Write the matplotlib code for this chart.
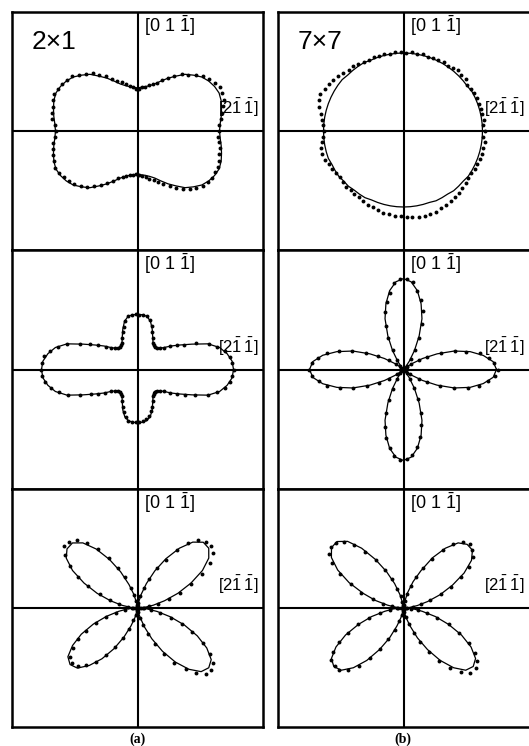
import numpy as np
import matplotlib
matplotlib.use('Agg')
import matplotlib.pyplot as plt

plt.rcParams['font.family'] = ['Liberation Sans', 'DejaVu Sans']
plt.rcParams['mathtext.fontset'] = 'custom'
plt.rcParams['mathtext.rm'] = 'Liberation Sans'

# fit curves: radius every 5 deg, starting at 0 deg ([2-1-1] direction), counter clockwise
fit_2x1_top = [82, 83, 85, 87, 89, 90, 89, 87, 84, 79, 74, 67, 61, 55, 50, 47, 45, 44,
               43, 44, 45, 47, 50, 55, 61, 67, 74, 79, 84, 87, 89, 90, 89, 87, 85, 83,
               82, 83, 85, 87, 89, 90, 89, 87, 84, 79, 74, 67, 61, 55, 50, 47, 45, 44,
               43, 44, 45, 47, 50, 55, 61, 67, 74, 79, 84, 87, 89, 90, 89, 87, 85, 83]
fit_2x1_mid = [96, 95, 91, 85, 75, 60, 49, 41, 34, 30, 28, 28, 31, 36, 43, 50, 54, 55,
               55, 55, 54, 50, 43, 36, 31, 28, 28, 30, 34, 41, 49, 60, 75, 85, 91, 95,
               96, 95, 91, 85, 75, 60, 49, 41, 34, 30, 28, 28, 31, 36, 43, 49, 52, 53,
               53, 53, 52, 49, 43, 36, 31, 28, 28, 30, 34, 41, 49, 60, 75, 85, 91, 95]
fit_2x1_bot = [3, 7, 16, 28, 43, 59, 75, 87, 93, 93, 86, 73, 57, 41, 26, 14, 5, 0,
               0, 0, 5, 14, 25, 40, 56, 72, 85, 92, 92, 87, 75, 59, 43, 28, 16, 7,
               3, 10, 19, 32, 47, 62, 75, 85, 88, 85, 75, 62, 47, 32, 19, 10, 3, 0,
               0, 0, 3, 9, 20, 34, 50, 66, 80, 90, 93, 90, 80, 66, 50, 34, 20, 9]
fit_7x7_top = [79, 79, 79, 79, 79, 79, 79, 78, 78, 78, 78, 78, 78, 78, 78, 78, 78, 78,
               78, 78, 78, 78, 78, 78, 79, 79, 79, 79, 80, 80, 80, 80, 80, 80, 80, 80,
               80, 80, 80, 80, 80, 79, 79, 79, 78, 78, 77, 77, 77, 76, 76, 76, 76, 76,
               76, 76, 76, 76, 76, 77, 77, 77, 78, 78, 78, 79, 79, 79, 79, 79, 79, 79]
fit_7x7_mid = [93, 90, 81, 69, 54, 37, 22, 10, 3, 0, 3, 10, 22, 37, 54, 68, 80, 88,
               91, 88, 80, 68, 54, 37, 22, 10, 3, 0, 3, 10, 22, 37, 54, 69, 82, 91,
               94, 91, 82, 69, 54, 37, 22, 10, 3, 0, 3, 10, 22, 37, 54, 68, 80, 88,
               91, 88, 80, 68, 54, 37, 22, 10, 3, 0, 3, 10, 22, 37, 54, 69, 81, 90]
fit_7x7_bot = [3, 6, 14, 25, 39, 54, 70, 83, 90, 90, 85, 73, 58, 41, 28, 16, 6, 1,
               0, 0, 5, 14, 26, 40, 56, 73, 87, 94, 94, 88, 76, 60, 43, 29, 16, 7,
               3, 10, 19, 33, 48, 64, 78, 88, 91, 88, 78, 64, 48, 33, 19, 10, 3, 0,
               0, 0, 3, 10, 19, 33, 48, 64, 78, 88, 91, 88, 78, 64, 48, 33, 19, 10]

# measured points: radius every 4 deg, starting at 0 deg
data_2x1_top = [81, 82, 84, 86, 89, 92, 93, 93, 91, 88, 85, 81, 76, 72, 66, 61, 57, 52, 49, 47, 45, 44, 42,
                42, 44, 46, 48, 51, 54, 58, 63, 68, 73, 77, 81, 85, 87, 89, 90, 91, 90, 88, 87, 86, 83,
                82, 83, 85, 86, 88, 89, 90, 89, 87, 85, 83, 79, 75, 70, 65, 60, 56, 51, 48, 46, 45, 44, 43,
                44, 45, 47, 49, 52, 55, 59, 64, 69, 74, 78, 82, 85, 87, 88, 88, 88, 87, 85, 84, 82, 81]
data_2x1_mid = [96, 95, 93, 89, 83, 76, 64, 53, 46, 40, 34, 31, 29, 28, 29, 31, 35, 40, 46, 51, 54, 55, 55,
                56, 55, 54, 50, 45, 40, 35, 31, 29, 28, 29, 31, 34, 39, 46, 54, 63, 75, 83, 89, 94, 96,
                97, 96, 93, 88, 82, 74, 63, 53, 46, 40, 34, 31, 29, 28, 29, 31, 35, 40, 45, 49, 52, 53, 53,
                53, 52, 50, 48, 44, 40, 35, 31, 29, 28, 29, 31, 34, 40, 46, 54, 63, 75, 83, 89, 93, 95]
data_2x1_bot = [3, 6, 12, 21, 33, 45, 59, 73, 85, 93, 96, 95, 91, 82, 70, 56, 44, 31, 21, 12, 5, 2, 0,
                1, 3, 7, 13, 21, 33, 45, 58, 71, 82, 91, 95, 96, 90, 80, 67, 54, 40, 29, 19, 10, 5, 3,
                6, 13, 22, 33, 44, 56, 67, 76, 83, 85, 83, 77, 68, 57, 45, 33, 23, 13, 7, 3, 1, 0,
                1, 1, 4, 10, 18, 28, 40, 53, 66, 78, 88, 95, 96, 93, 86, 74, 60, 47, 35, 23, 14, 7]
data_7x7_top = [81, 80, 81, 80, 81, 80, 81, 80, 80, 79, 81, 80, 82, 80, 79, 80, 79, 79, 78, 79, 78, 79, 78,
                79, 79, 78, 79, 79, 80, 79, 80, 81, 82, 82, 84, 85, 87, 88, 89, 91, 90, 88, 84, 82, 81,
                80, 81, 82, 84, 85, 84, 82, 81, 80, 79, 79, 80, 79, 80, 80, 81, 82, 82, 83, 84, 84, 85, 85,
                86, 86, 87, 88, 87, 87, 86, 85, 85, 84, 83, 82, 81, 80, 80, 81, 80, 81, 82, 81, 82, 80]
data_7x7_mid = [94, 91, 86, 78, 65, 55, 41, 27, 18, 9, 4, 1,
                1, 5, 13, 22, 35, 49, 62, 72, 80, 88, 91, 91, 87, 78, 70, 60, 47, 35, 22, 12, 5, 1,
                0, 3, 9, 17, 29, 41, 55, 67, 78, 86, 92, 95, 92, 85, 78, 66, 54, 40, 28, 17, 8, 3, 0,
                1, 5, 12, 22, 34, 47, 60, 71, 80, 87, 91, 90, 86, 79, 70, 58, 47, 33, 21, 12, 5, 1,
                0, 3, 8, 18, 27, 40, 54, 67, 77, 85, 92]
data_7x7_bot = [2, 4, 10, 18, 28, 40, 52, 65, 77, 86, 90, 92, 89, 81, 70, 57, 45, 33, 23, 14, 7, 3, 0,
                1, 3, 6, 12, 20, 31, 42, 55, 68, 80, 89, 94, 95, 92, 84, 72, 58, 45, 32, 21, 12, 6, 3,
                7, 14, 24, 36, 48, 61, 73, 83, 89, 90, 89, 83, 73, 60, 47, 35, 24, 14, 7, 3, 1, 0,
                1, 1, 4, 9, 17, 27, 38, 51, 64, 76, 86, 93, 94, 91, 84, 74, 61, 48, 35, 24, 15, 8]

W, H = 529, 746
fig = plt.figure(figsize=(W / 100, H / 100), dpi=100)

lab_up = r'[0 1 $\mathrm{\bar{1}}$]'
lab_side = r'[2$\mathrm{\bar{1}\,\bar{1}}$]'


def panel(x0, x1, y0, y1, fit, data, right_col, title=None):
    # square frame with the cross, units = pixels
    w, h = x1 - x0, y1 - y0
    ax = fig.add_axes([x0 / W, (H - y1) / H, w / W, h / H])
    ax.set_xlim(-w / 2, w / 2)
    ax.set_ylim(-h / 2, h / 2)
    ax.set_xticks([])
    ax.set_yticks([])
    for s in ax.spines.values():
        s.set_linewidth(1.8)
    if right_col:
        ax.spines['right'].set_visible(False)
    ax.axhline(0, color='k', lw=1.5)
    ax.axvline(0, color='k', lw=1.5)
    ax.text(7, h / 2 - 14, lab_up, fontsize=13, ha='left', va='center')
    ax.text(81, 23, lab_side, fontsize=12, ha='left', va='center')
    if title:
        ax.text(-106, 89, title, fontsize=19, ha='left', va='center')

    # polar plot on top, same centre, 1 unit = 1 pixel
    cx, cy = (x0 + x1) / 2, (y0 + y1) / 2
    pax = fig.add_axes([(cx - h / 2) / W, (H - cy - h / 2) / H, h / W, h / H],
                       projection='polar')
    pax.set_rlim(0, h / 2)
    pax.axis('off')
    th = np.deg2rad(np.arange(len(fit)) * 360 / len(fit))
    pax.plot(np.append(th, th[0]), np.append(fit, fit[0]), color='k', lw=0.9)
    thd = np.deg2rad(np.arange(len(data)) * 360 / len(data))
    pax.plot(thd, data, 'o', color='k', ms=2.8, mec='none')


rows = [(12, 250), (250, 489), (489, 727)]
left = [fit_2x1_top, fit_2x1_mid, fit_2x1_bot]
left_d = [data_2x1_top, data_2x1_mid, data_2x1_bot]
right = [fit_7x7_top, fit_7x7_mid, fit_7x7_bot]
right_d = [data_7x7_top, data_7x7_mid, data_7x7_bot]

for i, (ya, yb) in enumerate(rows):
    panel(12, 263, ya, yb, left[i], left_d[i], False, '2×1' if i == 0 else None)
    panel(278, 529, ya, yb, right[i], right_d[i], True, '7×7' if i == 0 else None)

fig.text(138 / W, 1 - 739 / H, '(a)', fontsize=10, fontweight='bold',
         family='Liberation Serif', ha='center', va='center')
fig.text(403 / W, 1 - 739 / H, '(b)', fontsize=10, fontweight='bold',
         family='Liberation Serif', ha='center', va='center')

fig.savefig('out.png', dpi=100)
